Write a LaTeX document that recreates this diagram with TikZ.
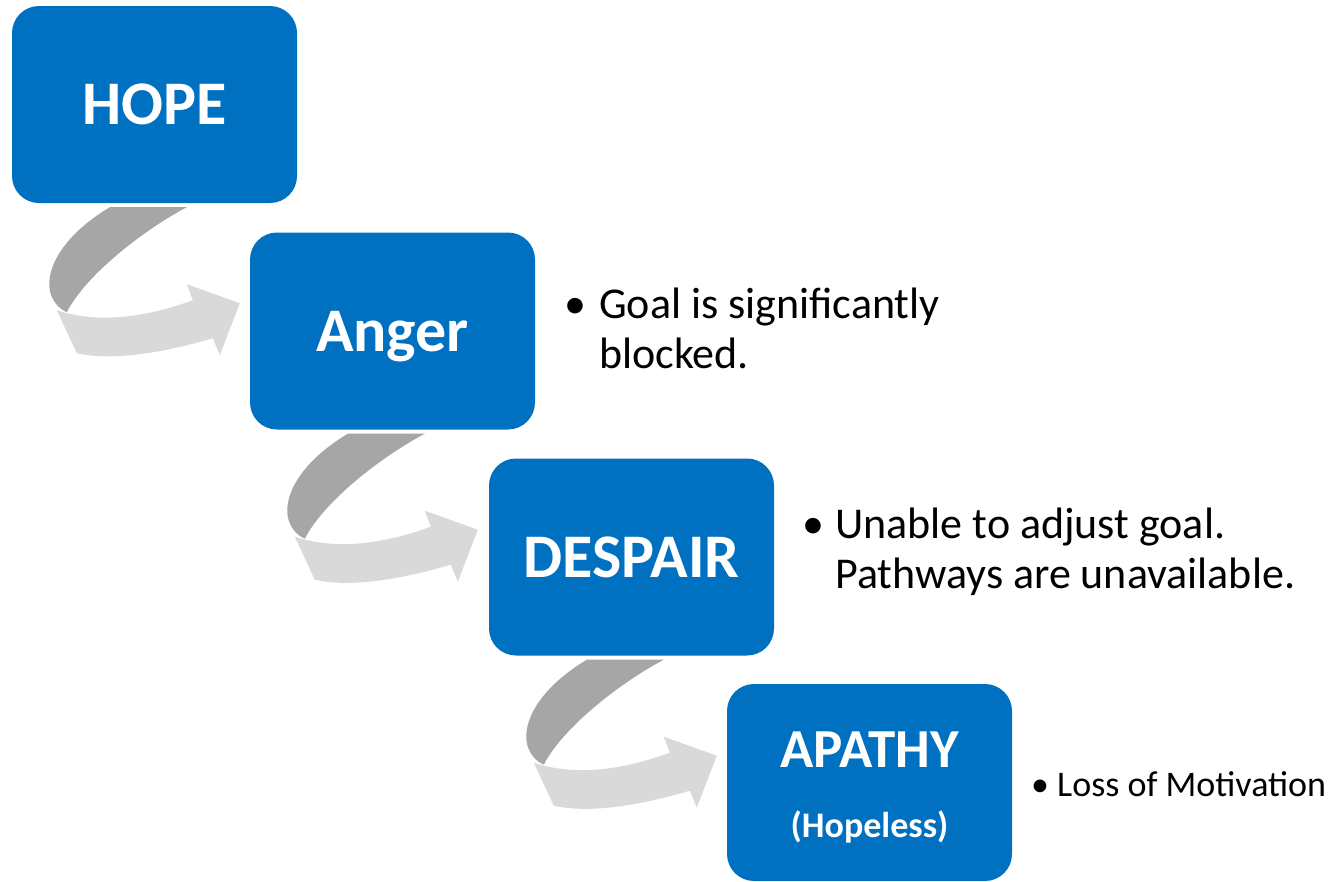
\documentclass[tikz,border=0pt]{standalone}
\usepackage{fontspec}
\setmainfont{Carlito}
\usetikzlibrary{positioning}
\definecolor{boxblue}{HTML}{0070C0}
\definecolor{backgray}{HTML}{A6A6A6}
\definecolor{frontgray}{HTML}{D9D9D9}
\tikzset{
  stage/.style={fill=boxblue, rounded corners=27pt, minimum width=285pt,
    minimum height=197pt, inner sep=0pt, text=white, text depth=0pt,
    font=\bfseries\fontsize{62}{62}\selectfont},
  stagetext/.style={anchor=base, inner sep=0pt, text=white},
  note/.style={anchor=base west, inner sep=0pt, font=\fontsize{44}{50}\selectfont},
  pics/twist/.style={code={
    \fill[backgray] (98,4) -- (175,4) .. controls (135,25) and (75,70) .. (55,109)
      .. controls (25,95) and (30,45) .. (98,4) -- cycle;
    \fill[frontgray] (45,107) .. controls (90,122) and (140,112) .. (181,97)
      -- (175,81) -- (228,100) -- (208,152) -- (201,135)
      .. controls (150,150) and (100,158) .. (65,150) -- cycle;
  }}
}

\begin{document}
\begin{tikzpicture}[x=1pt,y=-1pt]
    \useasboundingbox (0,0) rectangle (1337,881);

    \node[stage] (hope)    at (154.5,104.5) {HOPE};
    \node[stage] (anger)   at (392.5,331)   {Anger};
    \node[stage] (despair) at (631.5,557)   {DESPAIR};
    \node[stage] (apathy)  at (869.5,782.5) {};
    \node[stagetext, font=\bfseries\fontsize{55}{55}\selectfont] (apathyname) at (869.5,767) {APATHY};
    \node[stagetext, font=\bfseries\fontsize{36}{36}\selectfont] (hopeless) at (869.5,837) {(Hopeless)};

    \pic at (hope.south west)    {twist};
    \pic at (anger.south west)   {twist};
    \pic at (despair.south west) {twist};

    \node[note] (goalbullet) at (564,318) {\textbullet};
    \node[note] (goal)       at (599,318) {Goal is significantly};
    \node[note] (blocked)    at (599,368) {blocked.};

    \node[note] (adjustbullet) at (802,538) {\textbullet};
    \node[note] (adjust)       at (835,538) {Unable to adjust goal.};
    \node[note] (pathways)     at (835,588) {Pathways are unavailable.};

    \node[note, font=\fontsize{36}{36}\selectfont] (lossbullet) at (1031,796) {\textbullet};
    \node[note, font=\fontsize{36}{36}\selectfont] (loss)       at (1057,796) {Loss of Motivation};
\end{tikzpicture}
\end{document}
